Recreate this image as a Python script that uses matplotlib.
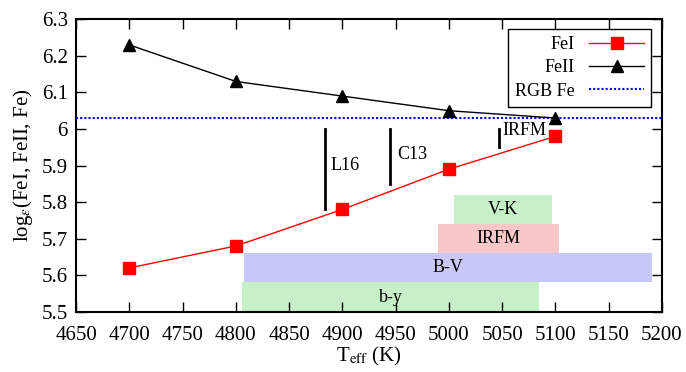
import matplotlib
matplotlib.use("Agg")
import matplotlib.pyplot as plt
from matplotlib.patches import Rectangle

plt.rcParams['font.family'] = ['Liberation Serif', 'DejaVu Serif']
plt.rcParams['mathtext.fontset'] = 'stix'

# Iron abundances versus effective temperature
teff = [4700, 4800, 4900, 5000, 5100]
fe1 = [5.62, 5.68, 5.78, 5.89, 5.98]
fe2 = [6.23, 6.13, 6.09, 6.05, 6.03]
rgb_fe = 6.03

# Temperature ranges from the photometric calibrations
band_labels = ['V-K', 'IRFM', 'B-V', 'b-y']
band_tmin = [5005, 4990, 4808, 4806]
band_tmax = [5097, 5103, 5191, 5085]
band_ylow = [5.74, 5.66, 5.58, 5.50]
band_yhigh = [5.82, 5.74, 5.66, 5.58]
band_colors = ['#c8f0c8', '#f8c8c8', '#c8c8f8', '#c8f0c8']

# Literature temperature markers
ref_labels = ['L16', 'C13', 'IRFM']
ref_teff = [4884, 4945, 5047]
ref_ylow = [5.78, 5.85, 5.95]
ref_yhigh = [6.00, 6.00, 6.00]
ref_text_x = [4889, 4951, 5050]
ref_text_y = [5.90, 5.93, 5.995]

fig = plt.figure(figsize=(6.86, 3.72), dpi=100)
ax = fig.add_axes([0.111, 0.162, 0.854, 0.786])

for lab, t0, t1, y0, y1, c in zip(band_labels, band_tmin, band_tmax,
                                   band_ylow, band_yhigh, band_colors):
    ax.add_patch(Rectangle((t0, y0), t1 - t0, y1 - y0, facecolor=c,
                           edgecolor='none', zorder=1))
    ax.text((t0 + t1) / 2, (y0 + y1) / 2, lab, ha='center', va='center',
            fontsize=13, zorder=2)

for lab, t, y0, y1, tx, ty in zip(ref_labels, ref_teff, ref_ylow, ref_yhigh,
                                  ref_text_x, ref_text_y):
    ax.plot([t, t], [y0, y1], color='black', lw=2, zorder=3)
    ax.text(tx, ty, lab, ha='left', va='center', fontsize=13, zorder=3)

ax.plot(teff, fe1, color='red', lw=1, marker='s', markersize=8.5,
        markeredgecolor='red', label='FeI', zorder=4)
ax.plot(teff, fe2, color='black', lw=1, marker='^', markersize=9,
        label='FeII', zorder=4)
ax.axhline(rgb_fe, color='blue', lw=1.5, linestyle=(0, (1, 1)),
           label='RGB Fe', zorder=3)

ax.set_xlim(4650, 5200)
ax.set_ylim(5.5, 6.3)
ax.set_xticks(range(4650, 5201, 50))
ax.set_yticks([5.5, 5.6, 5.7, 5.8, 5.9, 6.0, 6.1, 6.2, 6.3])
ax.set_yticklabels(['5.5', '5.6', '5.7', '5.8', '5.9', '6', '6.1', '6.2', '6.3'])
ax.tick_params(direction='in', top=True, right=True, length=7, width=1,
               labelsize=15)
ax.tick_params(axis='y', pad=6)
ax.tick_params(axis='x', pad=10)
for s in ax.spines.values():
    s.set_linewidth(1.5)

ax.set_xlabel(r'T$_{\rm eff}$ (K)', fontsize=15, labelpad=0)
ax.set_ylabel(r'log$_{\varepsilon}$(FeI, FeII, Fe)', fontsize=15, labelpad=5)

leg = ax.legend(loc='upper right', bbox_to_anchor=(0.981, 0.968),
                borderaxespad=0, markerfirst=False, fancybox=False,
                fontsize=13, framealpha=1, edgecolor='black',
                handlelength=3, borderpad=0.4, labelspacing=0.35)
leg.get_frame().set_linewidth(1)

fig.savefig('out.png', dpi=100)
